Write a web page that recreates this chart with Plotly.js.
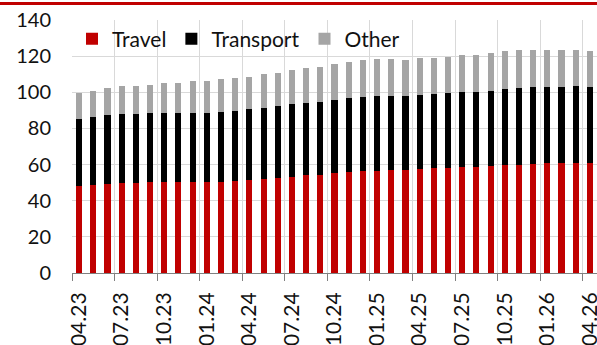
<!DOCTYPE html>
<html>
<head>
<meta charset="utf-8">
<script src="https://cdn.plot.ly/plotly-3.0.1.min.js"></script>
<style>html,body{margin:0;padding:0;background:#fff;}#chart{width:597px;height:345px;}</style>
</head>
<body>
<div id="chart"></div>
<script>
var months = ["04.23","05.23","06.23","07.23","08.23","09.23","10.23","11.23","12.23",
  "01.24","02.24","03.24","04.24","05.24","06.24","07.24","08.24","09.24","10.24","11.24","12.24",
  "01.25","02.25","03.25","04.25","05.25","06.25","07.25","08.25","09.25","10.25","11.25","12.25",
  "01.26","02.26","03.26","04.26"];

var travel = [48.0,48.6,49.5,49.8,50.0,50.2,50.2,50.2,50.2,50.2,50.6,50.9,51.5,52.1,52.6,53.4,54.1,54.3,
  55.4,56.1,56.5,56.7,56.9,57.2,57.6,58.0,58.3,58.7,58.9,59.3,59.8,60.0,60.2,60.6,60.6,60.9,60.6];

var transport = [37.4,37.9,38.1,38.2,38.0,38.1,38.3,38.3,38.5,38.5,38.7,38.9,39.1,39.4,39.6,39.9,40.2,40.6,
  40.5,40.9,41.1,41.1,40.9,40.6,40.9,40.9,41.3,41.5,41.5,41.5,42.1,42.4,42.6,42.6,42.6,42.4,42.4];

var other = [14.0,14.3,14.8,15.3,15.7,16.0,16.5,16.7,17.3,17.4,17.8,18.2,18.1,18.5,18.7,18.9,19.0,19.1,
  19.7,19.7,20.2,20.5,20.5,20.2,20.2,20.2,20.2,20.2,20.5,20.9,20.9,20.8,20.5,20.1,20.1,19.9,20.0];

var yTicks = [0,20,40,60,80,100,120,140];

var FONT = "Lato, 'Open Sans', sans-serif";

var traces = [
  {type:"bar", name:"Travel", x:months, y:travel, marker:{color:"#c00000"}},
  {type:"bar", name:"Transport", x:months, y:transport, marker:{color:"#000000"}},
  {type:"bar", name:"Other", x:months, y:other, marker:{color:"#a5a5a5"}}
];

var layout = {
  width:597, height:345,
  margin:{l:72, r:0, t:20, b:72, pad:0},
  barmode:"stack",
  bargap:0.57,
  paper_bgcolor:"#ffffff",
  plot_bgcolor:"#ffffff",
  font:{family:FONT, size:20, color:"#111111"},
  showlegend:true,
  legend:{orientation:"h", x:0, xanchor:"left", y:0.925, yanchor:"middle",
          bgcolor:"rgba(0,0,0,0)", font:{family:FONT, size:21, color:"#111111"},
          traceorder:"normal", itemwidth:30},
  xaxis:{type:"category", tickmode:"linear", tick0:0, dtick:3, tickson:"boundaries",
         range:[-0.5,36.5], showgrid:true, gridcolor:"#d9d9d9", gridwidth:1,
         ticks:"outside", ticklen:7, tickcolor:"#808080", tickwidth:1,
         showline:true, linecolor:"#808080", linewidth:1,
         tickangle:-90, ticklabelstandoff:10,
         tickfont:{family:FONT, size:21, color:"#111111"}, fixedrange:true},
  yaxis:{range:[0,140], tickmode:"array", tickvals:yTicks, ticktext:yTicks.map(String),
         showgrid:true, gridcolor:"#d9d9d9", gridwidth:1, zeroline:false, showline:false,
         ticks:"", ticklabelstandoff:20,
         tickfont:{family:FONT, size:20, color:"#111111"}, fixedrange:true},
  shapes:[{type:"line", xref:"paper", yref:"paper", x0:-0.1372, x1:1, y0:1.065, y1:1.065,
           line:{color:"#c00000", width:3}}]
};

Plotly.newPlot("chart", traces, layout, {staticPlot:true, displayModeBar:false});
</script>
</body>
</html>
